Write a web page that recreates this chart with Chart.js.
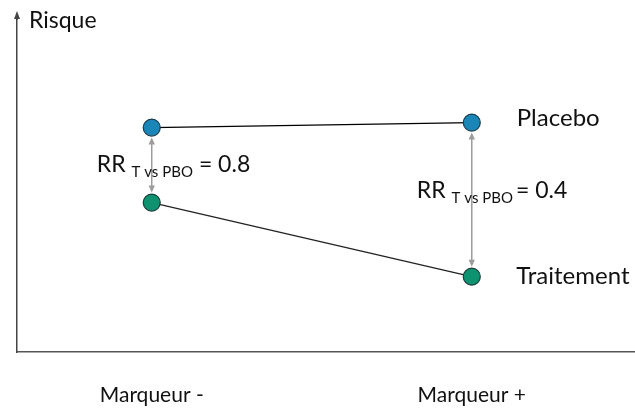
<!DOCTYPE html>
<html><head><meta charset="utf-8">
<script src="https://cdn.jsdelivr.net/npm/chart.js@4/dist/chart.umd.min.js"></script>
<style>html,body{margin:0;padding:0;background:#fff;overflow:hidden}canvas{display:block}</style>
</head><body><canvas id="c" width="635" height="410"></canvas>
<script>
const categories = ["Marqueur -", "Marqueur +"];
const xPositions = [1, 2];
const placebo = [6.76, 6.91];
const traitement = [4.50, 2.27];
const rrValues = ["0.8", "0.4"];
const seriesNames = ["Placebo", "Traitement"];
const yTitle = "Risque";

const FONT = "Lato, 'Open Sans', sans-serif";

const annot = {
  id: 'annot',
  afterDatasetsDraw(chart) {
    const ctx = chart.ctx, xs = chart.scales.x, ys = chart.scales.y, ca = chart.chartArea;
    ctx.save();
    // y axis arrow
    ctx.strokeStyle = '#444'; ctx.fillStyle = '#444'; ctx.lineWidth = 1.5;
    ctx.beginPath(); ctx.moveTo(ca.left, ca.top); ctx.lineTo(ca.left, 18); ctx.stroke();
    ctx.beginPath(); ctx.moveTo(ca.left, 11); ctx.lineTo(ca.left - 3, 19); ctx.lineTo(ca.left + 3, 19); ctx.closePath(); ctx.fill();
    ctx.fillStyle = '#111'; ctx.font = "23px " + FONT; ctx.textBaseline = 'alphabetic'; ctx.textAlign = 'left';
    ctx.fillText(yTitle, ca.left + 12, 28);
    // vertical gray double arrows
    const r = 9;
    ctx.strokeStyle = '#9c9c9c'; ctx.fillStyle = '#9c9c9c'; ctx.lineWidth = 1.5;
    for (let i = 0; i < xPositions.length; i++) {
      const x = xs.getPixelForValue(xPositions[i]);
      const y1 = ys.getPixelForValue(placebo[i]) + r + 1;
      const y2 = ys.getPixelForValue(traitement[i]) - r - 1;
      ctx.beginPath(); ctx.moveTo(x, y1 + 4); ctx.lineTo(x, y2 - 4); ctx.stroke();
      ctx.beginPath(); ctx.moveTo(x, y1); ctx.lineTo(x - 3.2, y1 + 7); ctx.lineTo(x + 3.2, y1 + 7); ctx.closePath(); ctx.fill();
      ctx.beginPath(); ctx.moveTo(x, y2); ctx.lineTo(x - 3.2, y2 - 7); ctx.lineTo(x + 3.2, y2 - 7); ctx.closePath(); ctx.fill();
    }
    // RR labels
    ctx.fillStyle = '#111'; ctx.textBaseline = 'alphabetic';
    const rrFrac = [0.595, 0.49];
    const eqGap = [6, 3];
    for (let i = 0; i < xPositions.length; i++) {
      let x = xs.getPixelForValue(xPositions[i]) - 55;
      const yp = ys.getPixelForValue(placebo[i]), yt = ys.getPixelForValue(traitement[i]);
      const yb = yp + (yt - yp) * rrFrac[i];
      ctx.font = "23px " + FONT; ctx.fillText("RR", x, yb); x += ctx.measureText("RR").width + 6;
      ctx.font = "15px " + FONT; ctx.fillText("T vs PBO", x, yb + 5); x += ctx.measureText("T vs PBO").width + eqGap[i];
      ctx.font = "23px " + FONT; ctx.fillText("= " + rrValues[i], x, yb);
    }
    // series names
    ctx.font = "24px " + FONT;
    const xl = xs.getPixelForValue(xPositions[1]) + 45;
    ctx.fillText(seriesNames[0], xl, ys.getPixelForValue(placebo[1]) + 3.5);
    ctx.fillText(seriesNames[1], xl - 0.5, ys.getPixelForValue(traitement[1]) + 7.5);
    ctx.restore();
  }
};

const mk = (arr) => arr.map((v, i) => ({x: xPositions[i], y: v}));
new Chart(document.getElementById('c'), {
  type: 'line',
  data: {
    datasets: [
      {label: seriesNames[0], data: mk(placebo), borderColor: '#000', borderWidth: 1.3,
       pointBackgroundColor: '#1a86b7', pointBorderColor: '#1d3b4f', pointBorderWidth: 1.2, pointRadius: 8.5},
      {label: seriesNames[1], data: mk(traitement), borderColor: '#222', borderWidth: 1.3,
       pointBackgroundColor: '#0e9270', pointBorderColor: '#1d3b3a', pointBorderWidth: 1.2, pointRadius: 8.5}
    ]
  },
  options: {
    responsive: false, animation: false,
    layout: {autoPadding: false, padding: {left: 17, top: 20, right: 0, bottom: 0}},
    plugins: {legend: {display: false}, tooltip: {enabled: false}},
    scales: {
      x: {type: 'linear', min: 0.579, max: 2.51,
        afterBuildTicks: (s) => { s.ticks = xPositions.map(v => ({value: v})); },
        afterFit: (s) => { s.height = 58; s.paddingLeft = 0; s.paddingRight = 0; },
        grid: {display: false, drawTicks: false},
        border: {display: true, color: '#555', width: 1.5},
        ticks: {padding: 31, color: '#111', maxRotation: 0, minRotation: 0, autoSkip: false,
          font: {size: 21, family: FONT},
          callback: (v) => { const i = xPositions.indexOf(v); return i >= 0 ? categories[i] : ''; }}
      },
      y: {min: 0, max: 10,
        afterFit: (s) => { s.width = 0; s.paddingTop = 0; s.paddingBottom = 0; },
        grid: {display: false, drawTicks: false},
        border: {display: true, color: '#444', width: 1.5},
        ticks: {display: false}
      }
    }
  },
  plugins: [annot]
});
</script></body></html>
